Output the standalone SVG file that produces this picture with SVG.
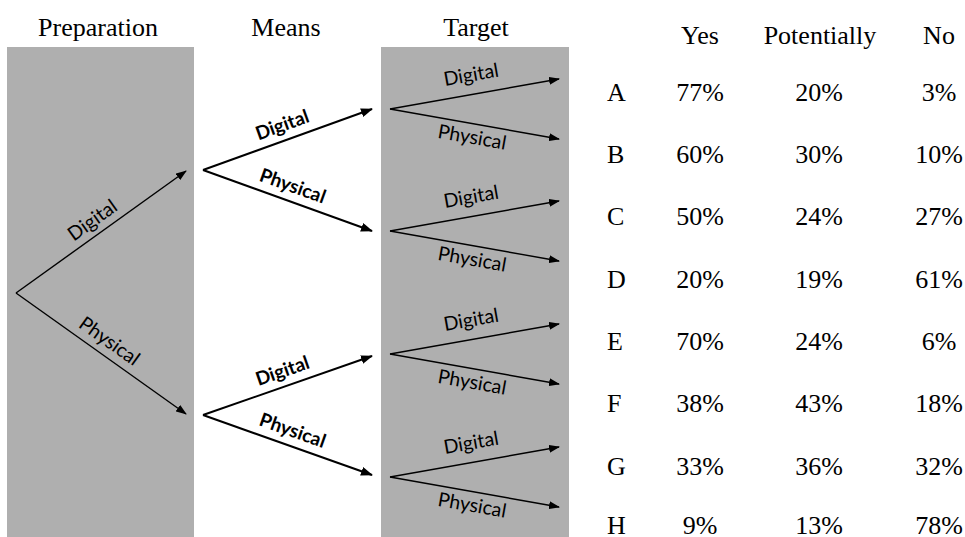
<svg xmlns="http://www.w3.org/2000/svg" width="965" height="537" viewBox="0 0 965 537">
<style>
.panel{fill:#afafaf}
.hdr{font-family:"Liberation Serif","Times New Roman",serif;font-size:26px;fill:#000;text-anchor:middle}
.row{font-family:"Liberation Serif","Times New Roman",serif;font-size:26px;fill:#000}
.lbl{font-family:Lato,"Open Sans",sans-serif;font-size:19.5px;fill:#000;text-anchor:middle}
.lblb{font-family:Lato,"Open Sans",sans-serif;font-size:19px;font-weight:bold;fill:#000;text-anchor:middle}
.ln{stroke:#000;stroke-width:1.4;fill:none;marker-end:url(#ah)}
.lnb{stroke:#000;stroke-width:2;fill:none;marker-end:url(#ahb)}
</style>
<defs>
<marker id="ah" markerUnits="userSpaceOnUse" markerWidth="11" markerHeight="8" refX="10" refY="4" orient="auto"><path d="M0,0 L11,4 L0,8 z" fill="#000"/></marker>
<marker id="ahb" markerUnits="userSpaceOnUse" markerWidth="12" markerHeight="9" refX="11" refY="4.5" orient="auto"><path d="M0,0 L12,4.5 L0,9 z" fill="#000"/></marker>
</defs>
<rect width="965" height="537" fill="#fff"/>
<g id="panel-preparation"><rect class="panel" x="7" y="47" width="187" height="490"/></g>
<g id="panel-target"><rect class="panel" x="381" y="47" width="188" height="490"/></g>
<g id="headers">
<text class="hdr" x="98" y="36">Preparation</text>
<text class="hdr" x="286" y="36">Means</text>
<text class="hdr" x="476" y="36">Target</text>
</g>
<g id="connectors">
<line class="ln" x1="16" y1="293" x2="186" y2="171"/>
<line class="ln" x1="16" y1="293" x2="186" y2="414"/>
<line class="lnb" x1="203" y1="170" x2="372" y2="109"/>
<line class="lnb" x1="203" y1="170" x2="372" y2="231"/>
<line class="lnb" x1="203" y1="415" x2="372" y2="356"/>
<line class="lnb" x1="203" y1="415" x2="372" y2="475"/>
<line class="ln" x1="390" y1="109" x2="559" y2="79"/>
<line class="ln" x1="390" y1="109" x2="559" y2="139"/>
<line class="ln" x1="390" y1="231" x2="559" y2="201"/>
<line class="ln" x1="390" y1="231" x2="559" y2="261"/>
<line class="ln" x1="390" y1="354" x2="559" y2="324"/>
<line class="ln" x1="390" y1="354" x2="559" y2="384"/>
<line class="ln" x1="390" y1="477" x2="559" y2="447"/>
<line class="ln" x1="390" y1="477" x2="559" y2="507"/>
</g>
<g id="labels-preparation">
<text class="lbl" transform="translate(101,232) rotate(-35.7)" y="-8">Digital</text>
<text class="lbl" transform="translate(101,353) rotate(35.4)" y="-8">Physical</text>
</g>
<g id="labels-means">
<text class="lblb" transform="translate(287.5,139.5) rotate(-19.8)" y="-9">Digital</text>
<text class="lblb" transform="translate(287.5,200.5) rotate(19.8)" y="-9">Physical</text>
<text class="lblb" transform="translate(287.5,385.5) rotate(-19.2)" y="-9">Digital</text>
<text class="lblb" transform="translate(287.5,445) rotate(19.5)" y="-9">Physical</text>
</g>
<g id="labels-target">
<text class="lbl" transform="translate(474.5,94) rotate(-10.07)" y="-13">Digital</text>
<text class="lbl" transform="translate(474.5,124) rotate(10.07)" y="20">Physical</text>
<text class="lbl" transform="translate(474.5,216) rotate(-10.07)" y="-13">Digital</text>
<text class="lbl" transform="translate(474.5,246) rotate(10.07)" y="20">Physical</text>
<text class="lbl" transform="translate(474.5,339) rotate(-10.07)" y="-13">Digital</text>
<text class="lbl" transform="translate(474.5,369) rotate(10.07)" y="20">Physical</text>
<text class="lbl" transform="translate(474.5,462) rotate(-10.07)" y="-13">Digital</text>
<text class="lbl" transform="translate(474.5,492) rotate(10.07)" y="20">Physical</text>
</g>
<g id="table">
<text class="hdr" x="700" y="44">Yes</text>
<text class="hdr" x="820" y="44">Potentially</text>
<text class="hdr" x="939" y="44">No</text>
<g id="row-A"><text class="row" x="607" y="101">A</text><text class="hdr" x="700" y="101">77%</text><text class="hdr" x="819" y="101">20%</text><text class="hdr" x="939" y="101">3%</text></g>
<g id="row-B"><text class="row" x="607" y="163">B</text><text class="hdr" x="700" y="163">60%</text><text class="hdr" x="819" y="163">30%</text><text class="hdr" x="939" y="163">10%</text></g>
<g id="row-C"><text class="row" x="607" y="225">C</text><text class="hdr" x="700" y="225">50%</text><text class="hdr" x="819" y="225">24%</text><text class="hdr" x="939" y="225">27%</text></g>
<g id="row-D"><text class="row" x="607" y="288">D</text><text class="hdr" x="700" y="288">20%</text><text class="hdr" x="819" y="288">19%</text><text class="hdr" x="939" y="288">61%</text></g>
<g id="row-E"><text class="row" x="607" y="350">E</text><text class="hdr" x="700" y="350">70%</text><text class="hdr" x="819" y="350">24%</text><text class="hdr" x="939" y="350">6%</text></g>
<g id="row-F"><text class="row" x="607" y="412">F</text><text class="hdr" x="700" y="412">38%</text><text class="hdr" x="819" y="412">43%</text><text class="hdr" x="939" y="412">18%</text></g>
<g id="row-G"><text class="row" x="607" y="475">G</text><text class="hdr" x="700" y="475">33%</text><text class="hdr" x="819" y="475">36%</text><text class="hdr" x="939" y="475">32%</text></g>
<g id="row-H"><text class="row" x="607" y="534">H</text><text class="hdr" x="700" y="534">9%</text><text class="hdr" x="819" y="534">13%</text><text class="hdr" x="939" y="534">78%</text></g>
</g>
</svg>
